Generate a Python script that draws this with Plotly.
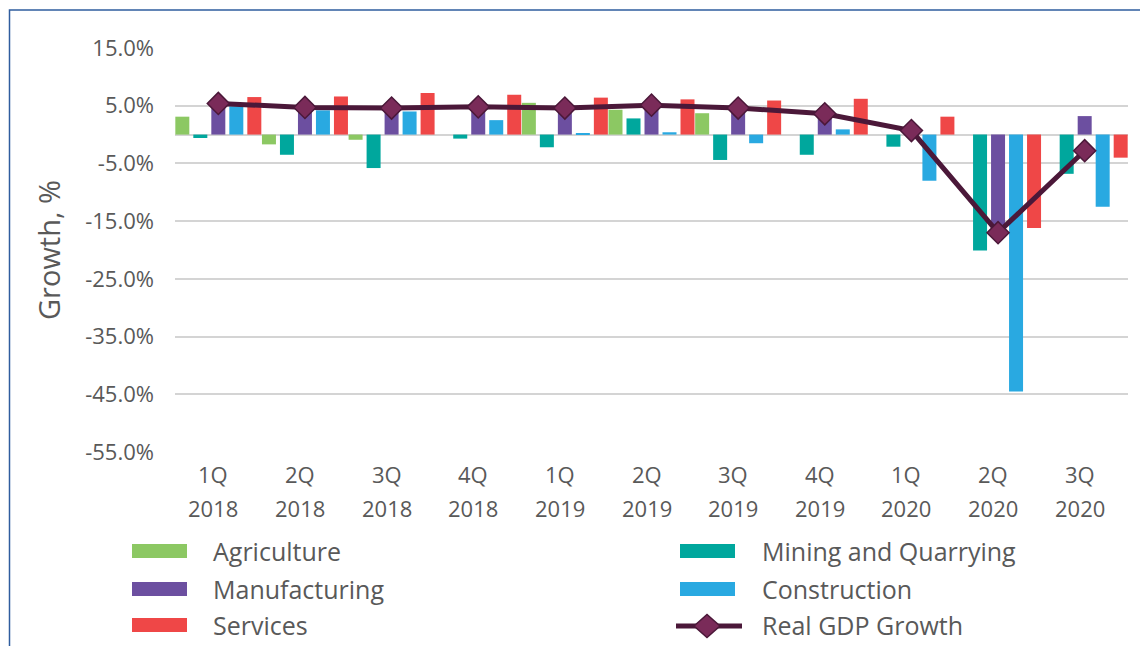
import plotly.graph_objects as go

# ---- data (growth, % y/y) ----
quarters = ["1Q", "2Q", "3Q", "4Q", "1Q", "2Q", "3Q", "4Q", "1Q", "2Q", "3Q"]
years = ["2018", "2018", "2018", "2018", "2019", "2019", "2019", "2019", "2020", "2020", "2020"]
periods = [f"{q} {y}" for q, y in zip(quarters, years)]

agriculture = [3.1, -1.7, -0.9, 0.0, 5.5, 4.3, 3.7, None, None, None, None]
mining = [-0.6, -3.5, -5.8, -0.7, -2.2, 2.8, -4.4, -3.5, -2.1, -20.1, -6.8]
manufacturing = [5.2, 4.5, 4.4, 4.7, 4.5, 4.9, 4.4, 3.3, 0.6, -17.0, 3.2]
construction = [4.9, 4.2, 4.0, 2.5, 0.2, 0.4, -1.5, 0.9, -8.0, -44.5, -12.5]
services = [6.5, 6.6, 7.2, 6.9, 6.4, 6.1, 5.9, 6.2, 3.1, -16.2, -4.0]
gdp = [5.4, 4.7, 4.6, 4.8, 4.6, 5.1, 4.6, 3.6, 0.7, -17.0, -2.8]

y_ticks = [15, 5, -5, -15, -25, -35, -45, -55]

TEXT = "#595959"
GRID = "#D4D4D4"
FONT = "Open Sans"

SERIES = [
    ("Agriculture", agriculture, "#8CC863"),
    ("Mining and Quarrying", mining, "#00A79D"),
    ("Manufacturing", manufacturing, "#6C4FA0"),
    ("Construction", construction, "#29A9E1"),
    ("Services", services, "#EF4747"),
]
LINE_COL = "#4B1839"
MARK_COL = "#7A2B59"

# page is shown with the browser's 8px body margin, so work in page pixels
OFF = 8
W, H = 1148 - OFF, 646 - OFF
PL, PR, PT, PB = 175, 1128, 48, 452          # plot area in page pixels
L, T = PL - OFF, PT - OFF
R, B = W - (PR - OFF), H - (PB - OFF)
PW, PH = PR - PL, PB - PT
CAT_PX = PW / len(periods)


def px(x):
    return (x - PL) / PW


def py(y):
    return (PB - y) / PH


fig = go.Figure()

bar_w = 14 / CAT_PX
step = 18 / CAT_PX
for k, (name, vals, col) in enumerate(SERIES):
    fig.add_trace(go.Bar(
        x=periods, y=vals, name=name,
        marker=dict(color=col, line=dict(width=0)),
        width=bar_w, offset=(k - 2) * step - bar_w / 2,
        showlegend=False,
    ))

fig.add_trace(go.Scatter(
    x=periods, y=gdp, name="Real GDP Growth", mode="lines+markers",
    line=dict(color=LINE_COL, width=5),
    marker=dict(symbol="diamond", size=17, color=MARK_COL,
                line=dict(color=LINE_COL, width=1.5)),
    showlegend=False,
))

annotations = []
# category labels (two lines, slightly left of the bar groups like the original)
shift = 5 / CAT_PX
for i, (q, y) in enumerate(zip(quarters, years)):
    annotations.append(dict(x=i - shift, y=py(474), xref="x", yref="paper", text=q,
                            xanchor="center", yanchor="middle", showarrow=False,
                            font=dict(size=22, color=TEXT)))
    annotations.append(dict(x=i - shift, y=py(508), xref="x", yref="paper", text=y,
                            xanchor="center", yanchor="middle", showarrow=False,
                            font=dict(size=22, color=TEXT)))

annotations.append(dict(x=px(48), y=0.5, xref="paper", yref="paper", text="Growth, %",
                        xanchor="center", yanchor="middle", textangle=-90,
                        showarrow=False, font=dict(size=29, color=TEXT)))

# custom legend
shapes = []
legend_rows = [551, 589, 625]
legend_items = [
    (0, 0, "Agriculture"), (1, 0, "Mining and Quarrying"),
    (0, 1, "Manufacturing"), (1, 1, "Construction"),
    (0, 2, "Services"),
]
col_x = [(132, 187, 211), (680, 735, 760)]
colors = {n: c for n, _, c in SERIES}
for c, r, name in legend_items:
    x0, x1, tx = col_x[c]
    yc = legend_rows[r]
    shapes.append(dict(type="rect", xref="paper", yref="paper",
                       x0=px(x0), x1=px(x1), y0=py(yc + 7), y1=py(yc - 7),
                       fillcolor=colors[name], line=dict(width=0)))
    annotations.append(dict(x=px(tx), y=py(yc), xref="paper", yref="paper", text=name,
                            xanchor="left", yanchor="middle", showarrow=False,
                            font=dict(size=25, color=TEXT)))

yc = legend_rows[2] + 1
shapes.append(dict(type="line", xref="paper", yref="paper", x0=px(676), x1=px(742),
                   y0=py(yc), y1=py(yc), line=dict(color=LINE_COL, width=5)))
dx, dy = 13 / PW, 11.5 / PH
cx, cy = px(707), py(yc)
shapes.append(dict(type="path", xref="paper", yref="paper",
                   path=f"M {cx - dx},{cy} L {cx},{cy + dy} L {cx + dx},{cy} L {cx},{cy - dy} Z",
                   fillcolor=MARK_COL, line=dict(color=LINE_COL, width=1.5)))
annotations.append(dict(x=px(760), y=py(yc - 1), xref="paper", yref="paper", text="Real GDP Growth",
                        xanchor="left", yanchor="middle", showarrow=False,
                        font=dict(size=25, color=TEXT)))

# outer frame
shapes.append(dict(type="rect", xref="paper", yref="paper",
                   x0=px(9.5), x1=px(1170), y0=py(680), y1=py(10),
                   line=dict(color="#2F5D9E", width=1.5), fillcolor="rgba(0,0,0,0)"))

fig.update_layout(
    width=W, height=H,
    paper_bgcolor="white", plot_bgcolor="white",
    font=dict(family=FONT, color=TEXT),
    barmode="overlay",
    margin=dict(l=L, r=R, t=T, b=B),
    xaxis=dict(type="category", categoryarray=periods, range=[-0.5, len(periods) - 0.5],
               showticklabels=False, showgrid=False, zeroline=False, showline=False, ticks=""),
    yaxis=dict(range=[-55, 15], tickvals=y_ticks,
               ticktext=[f"{v:.1f}%" for v in y_ticks],
               tickfont=dict(size=22, color=TEXT), ticklabelstandoff=20,
               showgrid=True, gridcolor=GRID, gridwidth=1.5,
               zeroline=True, zerolinecolor=GRID, zerolinewidth=1.5,
               showline=False, ticks=""),
    annotations=annotations,
    shapes=shapes,
    showlegend=False,
)

fig.write_html("out.html")
